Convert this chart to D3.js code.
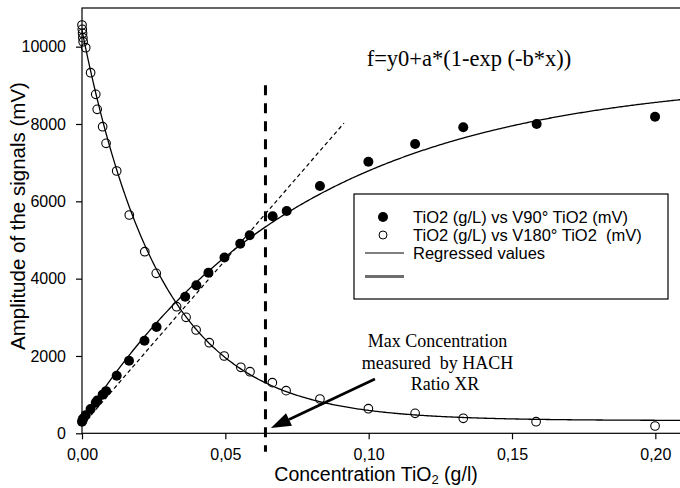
<!DOCTYPE html>
<html>
<head>
<meta charset="utf-8">
<script src="https://cdn.jsdelivr.net/npm/d3@7"></script>
<style>
  html, body { margin: 0; padding: 0; background: #fff; }
  svg { display: block; }
  .axis text { font-family: "Liberation Sans", Arial, sans-serif; font-size: 16px; fill: #000; }
  .axis path, .axis line { stroke: #000; stroke-width: 1.2; }
</style>
</head>
<body>
<svg id="chart" width="680" height="488"></svg>
<script>
// TiO2 concentration (g/L) and the 90° scattered signal (mV)
const conc90 = [0.0000, 0.0002, 0.0004, 0.0013, 0.0030, 0.0048, 0.0053, 0.0072, 0.0084,
  0.0121, 0.0164, 0.0218, 0.0260, 0.0360, 0.0399, 0.0441, 0.0497, 0.0552, 0.0585,
  0.0665, 0.0714, 0.0830, 0.0999, 0.1162, 0.1330, 0.1586, 0.1999];
const v90 = [300, 340, 380, 470, 630, 790, 850, 1000, 1090,
  1490, 1878, 2395, 2750, 3533, 3826, 4153, 4547, 4905, 5121,
  5612, 5749, 6395, 7024, 7482, 7914, 8000, 8188];

// TiO2 concentration (g/L) and the 180° transmitted signal (mV)
const conc180 = [0.0000, 0.0001, 0.0002, 0.0003, 0.0004, 0.0013, 0.0030, 0.0048, 0.0053,
  0.0072, 0.0084, 0.0121, 0.0165, 0.0219, 0.0259, 0.0330, 0.0363, 0.0398, 0.0444,
  0.0496, 0.0554, 0.0586, 0.0664, 0.0712, 0.0830, 0.0999, 0.1162, 0.1330, 0.1584, 0.1999];
const v180 = [10560, 10448, 10345, 10232, 10128, 9973, 9326, 8767, 8379,
  7930, 7500, 6784, 5646, 4697, 4138, 3274, 3000, 2672, 2343,
  1999, 1707, 1593, 1309, 1102, 887, 636, 517, 388, 300, 189];

// f = y0 + a*(1 - exp(-b*x)) parameters for both series
const fit90 = { y0: 300, a: 8920, b: 13 };
const fit180 = { y0: 10420, a: -10090, b: 36.5 };
// straight line through the low-concentration part of the 90° signal
const linear90 = { intercept: 200, slope: 85600, xEnd: 0.0914 };
// maximum concentration measured by the turbidimeter
const maxConc = 0.064;

const xTicks = [0, 0.05, 0.10, 0.15, 0.20];
const yTicks = [0, 2000, 4000, 6000, 8000, 10000];

const legendLabels = [
  "TiO2 (g/L) vs V90° TiO2 (mV)",
  "TiO2 (g/L) vs V180° TiO2  (mV)",
  "Regressed values",
  ""
];
const noteLines = ["Max Concentration", "measured  by HACH", "Ratio XR"];
const equation = "f=y0+a*(1-exp (-b*x))";

const svg = d3.select("#chart");
const x = d3.scaleLinear().domain([0, 0.21]).range([82, 684]);
const y = d3.scaleLinear().domain([0, 11000]).range([433.3, 8]);

const comma = v => d3.format(".2f")(v).replace(".", ",");

// frame
svg.append("rect")
  .attr("x", x(0)).attr("y", y(11000))
  .attr("width", x(0.21) - x(0)).attr("height", y(0) - y(11000))
  .attr("fill", "none").attr("stroke", "#000").attr("stroke-width", 1.2);

svg.append("defs").append("clipPath").attr("id", "plot")
  .append("rect").attr("x", x(0) - 8).attr("y", y(11000))
  .attr("width", x(0.21) - x(0) + 8).attr("height", y(0) - y(11000) + 2);

// axes
svg.append("g").attr("class", "axis")
  .attr("transform", `translate(0,${y(0)})`)
  .call(d3.axisBottom(x).tickValues(xTicks).tickFormat(comma).tickSize(6).tickPadding(9).tickSizeOuter(0))
  .call(g => g.select(".domain").remove());
svg.append("g").attr("class", "axis")
  .attr("transform", `translate(${x(0)},0)`)
  .call(d3.axisLeft(y).tickValues(yTicks).tickFormat(d3.format("d")).tickSize(6).tickPadding(10).tickSizeOuter(0))
  .call(g => g.select(".domain").remove());

// axis titles
const xt = svg.append("text")
  .attr("x", 376).attr("y", 480.5)
  .attr("text-anchor", "middle")
  .style("font-family", "'Liberation Sans', Arial, sans-serif")
  .style("font-size", "19.5px");
xt.append("tspan").text("Concentration TiO");
xt.append("tspan").attr("dy", 3.5).style("font-size", "13px").text("2");
xt.append("tspan").attr("dy", -3.5).text(" (g/l)");

svg.append("text")
  .attr("transform", "rotate(-90)")
  .attr("x", -216).attr("y", 25)
  .attr("text-anchor", "middle")
  .style("font-family", "'Liberation Sans', Arial, sans-serif")
  .style("font-size", "20.5px")
  .text("Amplitude of the signals (mV)");

const plot = svg.append("g").attr("clip-path", "url(#plot)");

// regressed curves
const xs = d3.range(0, 0.2101, 0.0005);
const model = p => v => p.y0 + p.a * (1 - Math.exp(-p.b * v));
const line = d3.line().x(d => x(d[0])).y(d => y(d[1]));

plot.append("path")
  .datum(xs.map(v => [v, model(fit90)(v)]))
  .attr("d", line).attr("fill", "none").attr("stroke", "#000").attr("stroke-width", 1.3);
plot.append("path")
  .datum(xs.map(v => [v, model(fit180)(v)]))
  .attr("d", line).attr("fill", "none").attr("stroke", "#000").attr("stroke-width", 1.3);

// linear trend at low concentration
plot.append("path")
  .datum([[0, linear90.intercept], [linear90.xEnd, linear90.intercept + linear90.slope * linear90.xEnd]])
  .attr("d", line).attr("fill", "none").attr("stroke", "#000")
  .attr("stroke-width", 1.2).attr("stroke-dasharray", "4,3");

// measured points
svg.append("g").selectAll("circle")
  .data(d3.zip(conc90, v90)).join("circle")
  .attr("cx", d => x(d[0])).attr("cy", d => y(d[1])).attr("r", 5)
  .attr("fill", "#000");
svg.append("g").selectAll("circle")
  .data(d3.zip(conc180, v180)).join("circle")
  .attr("cx", d => x(d[0])).attr("cy", d => y(d[1])).attr("r", 4.3)
  .attr("fill", "none").attr("stroke", "#000").attr("stroke-width", 1.1);

// vertical marker at the maximum measurable concentration
svg.append("line")
  .attr("x1", x(maxConc)).attr("x2", x(maxConc))
  .attr("y1", y(9000)).attr("y2", y(-480))
  .attr("stroke", "#000").attr("stroke-width", 3).attr("stroke-dasharray", "10,8");

// equation
svg.append("text")
  .attr("x", 469).attr("y", 66)
  .attr("text-anchor", "middle")
  .style("font-family", "'Liberation Serif', 'Times New Roman', serif")
  .style("font-size", "22.5px")
  .text(equation);

// legend
const lg = svg.append("g");
lg.append("rect")
  .attr("x", 354).attr("y", 194).attr("width", 314).attr("height", 105)
  .attr("fill", "#fff").attr("stroke", "#000").attr("stroke-width", 1.2);
const rowY = [217, 235, 253, 276.5];
lg.append("circle").attr("cx", 383).attr("cy", rowY[0]).attr("r", 5).attr("fill", "#000");
lg.append("circle").attr("cx", 383).attr("cy", rowY[1]).attr("r", 4).attr("fill", "none")
  .attr("stroke", "#000").attr("stroke-width", 1);
lg.append("line").attr("x1", 365).attr("x2", 404).attr("y1", rowY[2]).attr("y2", rowY[2])
  .attr("stroke", "#000").attr("stroke-width", 1.2);
lg.append("line").attr("x1", 365).attr("x2", 404).attr("y1", rowY[3]).attr("y2", rowY[3])
  .attr("stroke", "#6e6e6e").attr("stroke-width", 3);
lg.selectAll("text.lab").data(legendLabels).join("text")
  .attr("class", "lab")
  .attr("x", 413).attr("y", (d, i) => rowY[i] + 6)
  .style("font-family", "'Liberation Sans', Arial, sans-serif")
  .style("font-size", "16.5px")
  .style("white-space", "pre")
  .attr("xml:space", "preserve")
  .text(d => d);

// annotation
const notePos = [437.5, 437.5, 445];
svg.selectAll("text.note").data(noteLines).join("text")
  .attr("class", "note")
  .attr("x", (d, i) => notePos[i]).attr("y", (d, i) => 347 + i * 21.5)
  .attr("text-anchor", "middle")
  .attr("xml:space", "preserve")
  .style("font-family", "'Liberation Serif', 'Times New Roman', serif")
  .style("font-size", "18px")
  .style("white-space", "pre")
  .text(d => d);

// arrow pointing at the marker
const arrowFrom = [0.1022, 1404], arrowTo = [0.0659, 137];
const ax1 = x(arrowFrom[0]), ay1 = y(arrowFrom[1]), ax2 = x(arrowTo[0]), ay2 = y(arrowTo[1]);
const ang = Math.atan2(ay2 - ay1, ax2 - ax1);
const headLen = 20, headW = 7;
const bx = ax2 - headLen * Math.cos(ang), by = ay2 - headLen * Math.sin(ang);
svg.append("line").attr("x1", ax1).attr("y1", ay1).attr("x2", bx).attr("y2", by)
  .attr("stroke", "#000").attr("stroke-width", 2.6);
svg.append("path")
  .attr("d", `M${ax2},${ay2}L${bx + headW * Math.sin(ang)},${by - headW * Math.cos(ang)}L${bx - headW * Math.sin(ang)},${by + headW * Math.cos(ang)}Z`)
  .attr("fill", "#000");
</script>
</body>
</html>
